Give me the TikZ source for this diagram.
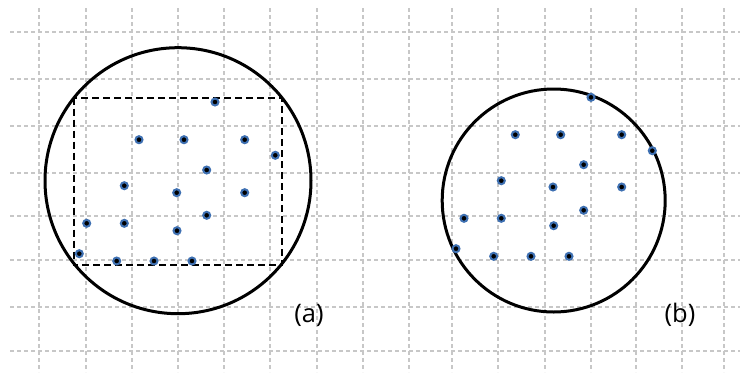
\documentclass[tikz,border=0pt]{standalone}
\usepackage{fontspec}
\setmainfont{Open Sans}
\begin{document}
\begin{tikzpicture}[x=1pt,y=-1pt,
  gridline/.style={draw=black!22,line width=1.5pt,dash pattern=on 4pt off 3pt},
  bigcircle/.style={draw=black,line width=3pt},
  boxline/.style={draw=black,line width=1.8pt,dash pattern=on 7pt off 4pt},
  dot/.style={circle,fill=black,draw=dotblue,line width=2pt,minimum size=7pt,inner sep=0pt},
  lab/.style={font=\fontsize{25.5}{30}\selectfont,inner sep=0pt}]
\definecolor{dotblue}{HTML}{3E70B2}
\useasboundingbox (0,0) rectangle (740,376);
% grid
\foreach \gx in {39,86,132,178,224,270,317,363,409,452,498,545,591,636,682,724}
  \draw[gridline] (\gx,8) -- (\gx,372);
\foreach \gy in {32,79,126,173,216,260,307,351}
  \draw[gridline] (10,\gy) -- (740,\gy);
% (a)
\draw[bigcircle] (178,180.7) circle[radius=133];
\draw[boxline] (73.7,97.7) rectangle (282,265);
\foreach \px/\py [count=\i] in {215/102, 139/139.7, 184/139.7, 244.7/139.7, 275.3/155.3, 206.7/170,
   124.3/185.7, 176.7/192.7, 244.7/192.7, 86.7/223.3, 124.3/223.3, 206.7/215.3, 177/230.7,
   79.3/253.7, 116.7/261, 154/261, 192/261}
  \node[dot] (a\i) at (\px,\py) {};
\node[lab] (la) at (309,315) {(a)};
% (b)
\draw[bigcircle] (553.7,200.5) circle[radius=111.5];
\foreach \px/\py [count=\i] in {591/97.3, 515.3/134.7, 560.7/134.7, 621.7/134.7, 652.3/150.7, 583.7/164.7,
   501.3/180.7, 553/187, 621.7/187, 464/218.3, 501.3/218.3, 583.7/210.3, 553.7/225.7,
   456/248.7, 493.7/256.3, 531/256.3, 569/256.3}
  \node[dot] (b\i) at (\px,\py) {};
\node[lab] (lb) at (680,315) {(b)};
\end{tikzpicture}
\end{document}
